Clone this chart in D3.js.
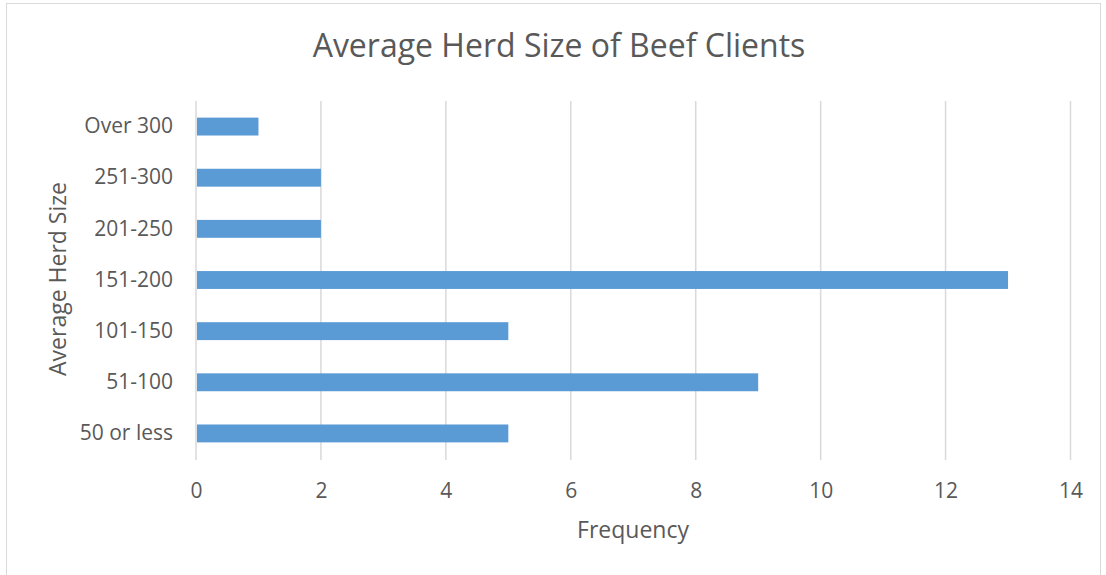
<!DOCTYPE html>
<html>
<head>
<meta charset="utf-8">
<script src="https://cdn.jsdelivr.net/npm/d3@7"></script>
<style>
  body { margin: 0; background: #fff; }
  text { font-family: "Open Sans", sans-serif; fill: #595959; }
</style>
</head>
<body>
<div id="chart"></div>
<script>
// categories top to bottom
let categories = ["Over 300", "251-300", "201-250", "151-200", "101-150", "51-100", "50 or less"]
let frequency = [1, 2, 2, 13, 5, 9, 5]
let xTicks = [0, 2, 4, 6, 8, 10, 12, 14]

drawChart()

function drawChart() {
    var W = 1106, H = 575
    var margin = { top: 101, right: 36, bottom: 115, left: 196 },
        width = W - margin.left - margin.right,
        height = H - margin.top - margin.bottom

    var root = d3.select("#chart")
        .append("svg")
        .attr("width", W)
        .attr("height", H)

    // outer chart border
    root.append("rect")
        .attr("x", 6.5).attr("y", 3.5)
        .attr("width", 1094).attr("height", 580)
        .attr("fill", "none")
        .attr("stroke", "#d9d9d9")

    var svg = root.append("g")
        .attr("transform", "translate(" + margin.left + "," + margin.top + ")")

    var data = categories.map(function (c, i) { return { cat: c, value: frequency[i] } })

    var x = d3.scaleLinear()
        .domain([0, 14])
        .range([0, 874.5])

    var y = d3.scaleBand()
        .domain(categories)
        .range([0, 358])
        .paddingInner(0.65)
        .paddingOuter(0.325)

    // gridlines
    svg.selectAll(".grid")
        .data(xTicks)
        .enter()
        .append("line")
        .attr("x1", function (d) { return x(d) })
        .attr("x2", function (d) { return x(d) })
        .attr("y1", 0)
        .attr("y2", height)
        .attr("stroke", "#d9d9d9")
        .attr("stroke-width", 1.5)

    // bars
    svg.selectAll(".bar")
        .data(data)
        .enter()
        .append("rect")
        .attr("x", x(0) + 1)
        .attr("y", function (d) { return y(d.cat) })
        .attr("width", function (d) { return x(d.value) - x(0) - 1 })
        .attr("height", y.bandwidth())
        .attr("fill", "#5b9bd5")

    // x axis
    var xAxis = svg.append("g")
        .attr("transform", "translate(0," + height + ")")
        .call(d3.axisBottom(x).tickValues(xTicks).tickSize(0).tickPadding(23))
    xAxis.select(".domain").remove()
    xAxis.selectAll("text").style("font-size", "21px").style("fill", "#595959")

    // y axis
    var yAxis = svg.append("g")
        .call(d3.axisLeft(y).tickSize(0).tickPadding(23))
    yAxis.select(".domain").remove()
    yAxis.selectAll("text").style("font-size", "21px").style("fill", "#595959")

    // title
    root.append("text")
        .attr("x", 559)
        .attr("y", 57)
        .attr("text-anchor", "middle")
        .style("font-size", "32px")
        .text("Average Herd Size of Beef Clients")

    // axis titles
    root.append("text")
        .attr("x", 633)
        .attr("y", 538)
        .attr("text-anchor", "middle")
        .style("font-size", "23px")
        .text("Frequency")

    root.append("text")
        .attr("transform", "translate(66,279)rotate(-90)")
        .attr("text-anchor", "middle")
        .style("font-size", "23px")
        .text("Average Herd Size")
}
</script>
</body>
</html>
